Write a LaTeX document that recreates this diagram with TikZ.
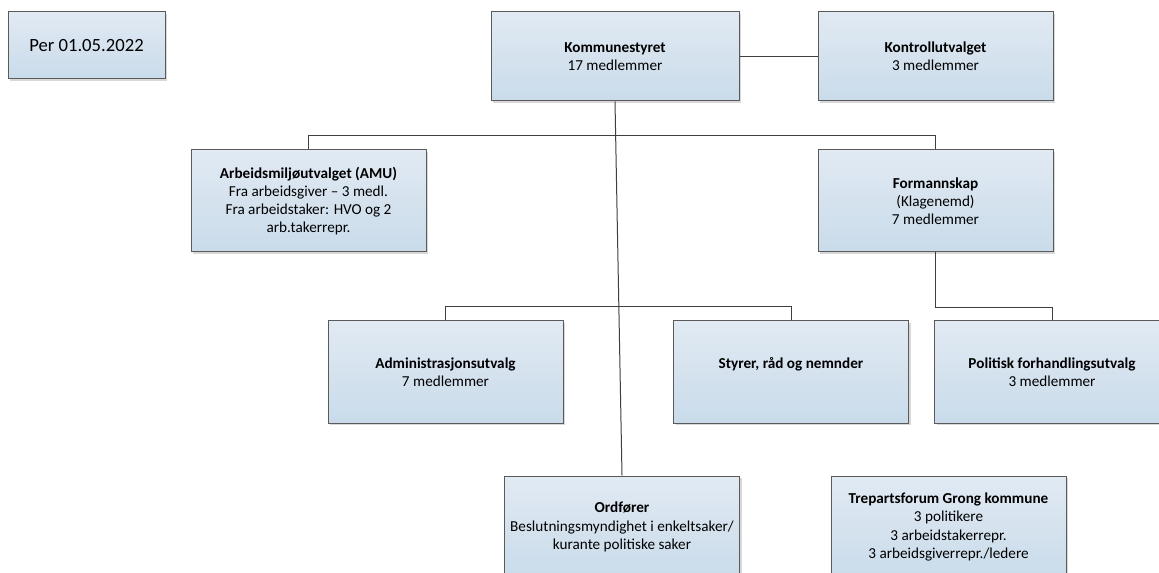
\documentclass[tikz,border=0pt]{standalone}
\usepackage{fontspec}
\setmainfont{Carlito}
\usetikzlibrary{shadows}
\definecolor{boxtop}{HTML}{E1EAF3}
\definecolor{boxbot}{HTML}{C9DBEA}
\definecolor{boxline}{HTML}{5A5A5A}
\definecolor{conn}{HTML}{3F3F3F}
\tikzset{
  orgbox/.style={rectangle, draw=boxline, line width=0.75pt,
    top color=boxtop, bottom color=boxbot,
    minimum width=176.25pt, minimum height=76.5pt,
    align=center, inner sep=0pt,
    font=\fontsize{11.4}{13.6}\selectfont,
    drop shadow={shadow xshift=1.6pt, shadow yshift=-1.6pt, fill=black!30, opacity=0.5}},
  conline/.style={draw=conn, line width=0.75pt},
}
\begin{document}
\begin{tikzpicture}[x=0.75pt,y=-0.75pt]
\useasboundingbox (0,0) rectangle (1159,573);
\fill[white] (0,0) rectangle (1159,573);

\node[orgbox, minimum width=117.75pt, minimum height=50.25pt, font=\fontsize{14}{17}\selectfont] (per) at (86.5,45.5) {Per 01.05.2022};
\node[orgbox, minimum width=186pt, minimum height=66.75pt] (kom) at (615,56.5) {\textbf{Kommunestyret}\\17 medlemmer};
\node[orgbox, minimum height=66.75pt] (kon) at (935.5,56.5) {\textbf{Kontrollutvalget}\\3 medlemmer};
\node[orgbox] (amu) at (308.5,201) {\textbf{Arbeidsmiljøutvalget (AMU)}\\Fra arbeidsgiver -- 3 medl.\\Fra arbeidstaker: HVO og 2\\arb.takerrepr.};
\node[orgbox] (for) at (935.5,201) {\textbf{Formannskap}\\(Klagenemd)\\7 medlemmer};
\node[orgbox] (adm) at (445.5,372) {\textbf{Administrasjonsutvalg}\\7 medlemmer};
\node[orgbox] (sty) at (791,372) {\textbf{Styrer, råd og nemnder}\\\mbox{}};
\node[orgbox] (pol) at (1052,372) {\textbf{Politisk forhandlingsutvalg}\\3 medlemmer};
\node[orgbox] (ord) at (622,527) {\textbf{Ordfører}\\Beslutningsmyndighet i enkeltsaker/\\kurante politiske saker};
\node[orgbox] (tre) at (948.5,527) {\textbf{Trepartsforum Grong kommune}\\3 politikere\\3 arbeidstakerrepr.\\3 arbeidsgiverrepr./ledere};

\draw[conline] (kom.east) -- (kon.west);
\draw[conline] (amu.north) -- ++(0,-14) -| (for.north);
\draw[conline] (adm.north) -- ++(0,-14) -| (sty.north);
\draw[conline] (for.south) -- ++(0,55) -| (pol.north);
\draw[conline] (kom.south) -- (ord.north);
\end{tikzpicture}
\end{document}
